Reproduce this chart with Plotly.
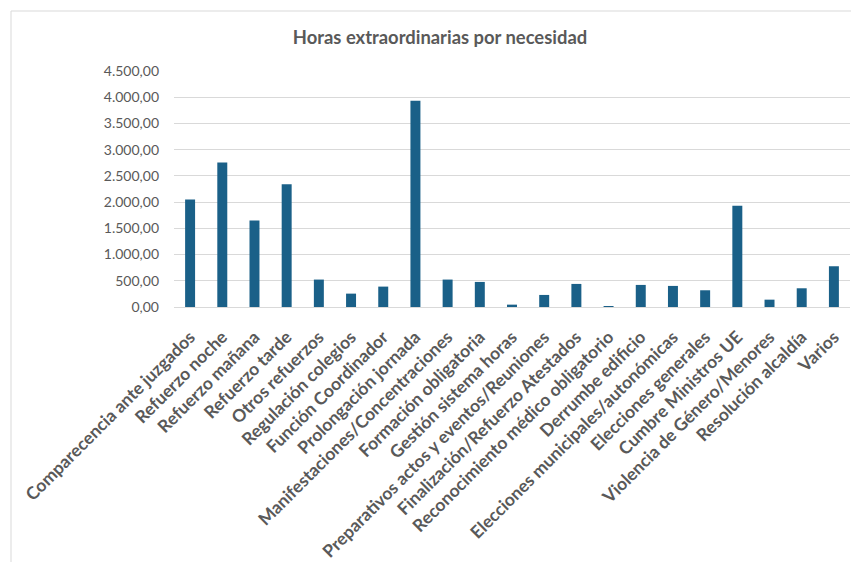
import plotly.graph_objects as go

# --- Data ---
categorias = [
    "Comparecencia ante juzgados",
    "Refuerzo noche",
    "Refuerzo mañana",
    "Refuerzo tarde",
    "Otros refuerzos",
    "Regulación colegios",
    "Función Coordinador",
    "Prolongación jornada",
    "Manifestaciones/Concentraciones",
    "Formación obligatoria",
    "Gestión sistema horas",
    "Preparativos actos y eventos/Reuniones",
    "Finalización/Refuerzo Atestados",
    "Reconocimiento médico obligatorio",
    "Derrumbe edificio",
    "Elecciones municipales/autonómicas",
    "Elecciones generales",
    "Cumbre Ministros UE",
    "Violencia de Género/Menores",
    "Resolución alcaldía",
    "Varios",
]
horas = [
    2050, 2757, 1650, 2342, 523, 255, 389, 3933, 523, 478, 45,
    230, 440, 12, 421, 402, 319, 1929, 140, 357, 777,
]
ticks_y = [0, 500, 1000, 1500, 2000, 2500, 3000, 3500, 4000, 4500]

# page body has an 8px margin: work in screen pixels and shift
OFF = 8
W, H = 859 - OFF, 562 - OFF
L, R, T, B = 174 - OFF, 9, 71 - OFF, 255
pw, ph = W - L - R, H - T - B

gris = "#595959"

fig = go.Figure(go.Bar(
    x=categorias,
    y=horas,
    marker_color="#1a6088",
    marker_line_width=0,
))

fig.update_layout(
    width=W, height=H,
    margin=dict(l=L, r=R, t=T, b=B),
    paper_bgcolor="white",
    plot_bgcolor="white",
    separators=",.",
    bargap=0.69,
    showlegend=False,
    font=dict(family="Lato", color=gris),
    title=dict(
        text="<b>Horas extraordinarias por necesidad</b>",
        x=(440 - OFF) / W, xref="container", xanchor="center",
        y=1 - (38 - OFF) / H, yref="container", yanchor="middle",
        font=dict(size=18.4, color=gris, family="Lato"),
    ),
)

fig.update_yaxes(
    range=[0, 4500],
    tickvals=ticks_y,
    tickformat=",.2f",
    tickfont=dict(size=14, color=gris),
    gridcolor="#d9d9d9",
    gridwidth=1,
    zeroline=False,
    showline=False,
    ticks="",
    ticklabelstandoff=14,
    automargin=False,
)

fig.update_xaxes(
    tickangle=-45,
    tickfont=dict(size=17.5, color=gris, weight="bold"),
    showline=True,
    linecolor="#d9d9d9",
    linewidth=1,
    ticks="",
    ticklabelstandoff=12,
    automargin=False,
)

# --- Chart border (Excel style frame) ---
def px_x(p):
    return (p - OFF - L) / pw

def px_y(p):
    return (H - B - (p - OFF)) / ph

fig.add_shape(type="line", xref="paper", yref="paper",
              x0=px_x(11), x1=px_x(859), y0=px_y(11), y1=px_y(11),
              line=dict(color="#d9d9d9", width=1))
fig.add_shape(type="line", xref="paper", yref="paper",
              x0=px_x(11), x1=px_x(11), y0=px_y(11), y1=px_y(562),
              line=dict(color="#d9d9d9", width=1))

fig.write_html("out.html")
